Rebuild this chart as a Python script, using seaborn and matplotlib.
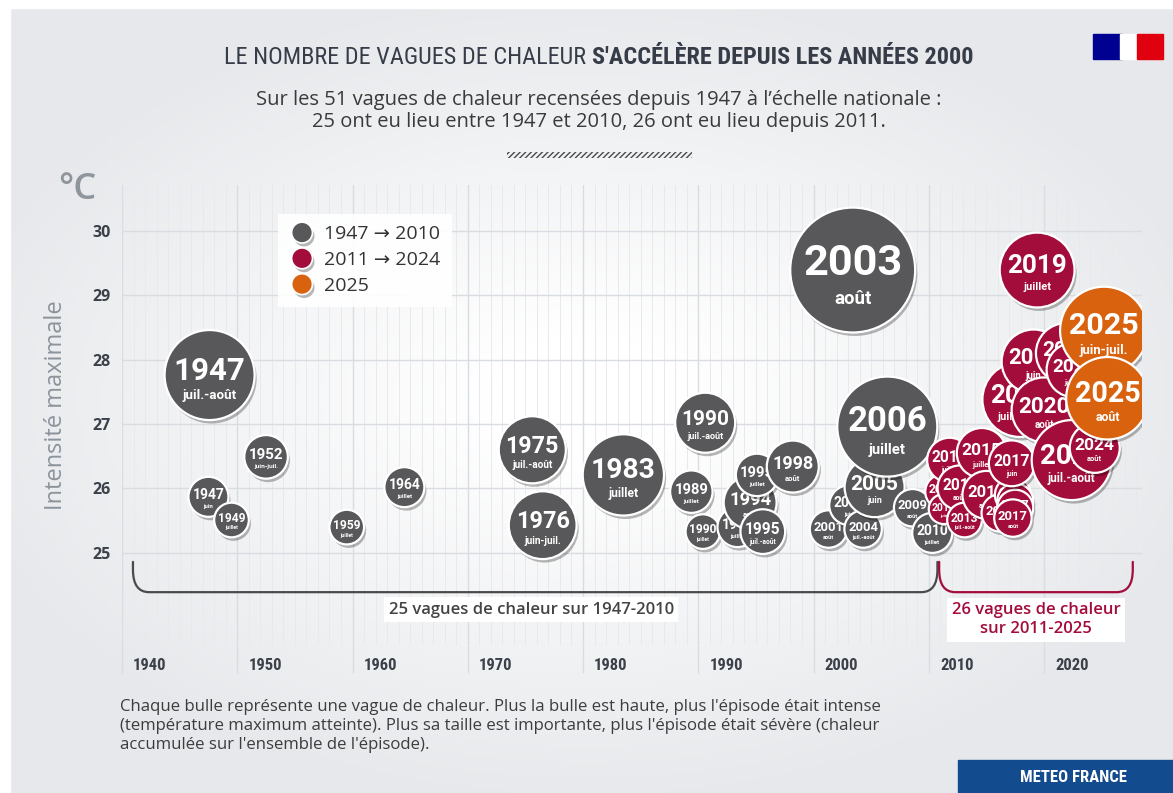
import numpy as np
import pandas as pd
import seaborn as sns
import matplotlib.pyplot as plt
import matplotlib.patheffects as pe
from matplotlib import font_manager
from matplotlib.font_manager import FontProperties
from matplotlib.path import Path
from matplotlib.patches import PathPatch, Rectangle
from matplotlib.lines import Line2D
from matplotlib.colors import LinearSegmentedColormap
from matplotlib.transforms import ScaledTranslation, blended_transform_factory

# --- heat waves (draw order = row order, later on top) ---
annees = ["1947", "1947", "1949", "1952", "1959", "1964", "1975", "1976", "1983",
          "1989", "1990", "1990", "1994", "1994", "1995", "1995", "1998", "2001",
          "2003", "2003", "2004", "2005", "2006", "2009", "2010",
          "2011", "2011", "2012", "2012", "2013", "2015", "2015", "2016", "2016",
          "2017", "2017", "2017", "2017", "2018", "2019", "2019", "2020", "2022",
          "2022", "2022", "2024", "2025", "2025"]
mois = ["juin", "juil.-août", "juillet", "juin-juil.", "juillet", "juillet", "juil.-août",
        "juin-juil.", "juillet", "juillet", "juillet", "juil.-août", "juillet", "août",
        "juillet", "juil.-août", "août", "août", "juin", "août", "juil.-août", "juin",
        "juillet", "août", "juillet",
        "juin", "juillet", "juin", "août", "juil.-août", "juillet", "août", "juillet",
        "août", "juillet", "juillet", "juin", "août", "juil.-août", "juin", "juillet",
        "août", "juin", "juillet", "juil.-août", "août", "juin-juil.", "août"]
# position on the time axis (decimal year)
position = [1947.5, 1947.6, 1949.5, 1952.5, 1959.5, 1964.5, 1975.6, 1976.5, 1983.5,
            1989.4, 1990.4, 1990.6, 1993.4, 1994.5, 1995.1, 1995.6, 1998.2, 2001.3,
            2003.1, 2003.4, 2004.3, 2005.3, 2006.4, 2008.6, 2010.3,
            2011.2, 2011.8, 2011.3, 2012.7, 2013.1, 2014.6, 2015.0, 2016.2, 2017.3,
            2017.5, 2017.5, 2017.2, 2017.3, 2017.9, 2019.1, 2019.4, 2020.0, 2021.9,
            2022.6, 2022.4, 2024.4, 2025.2, 2025.5]
# maximum intensity (°C)
intensite = [25.87, 27.76, 25.51, 26.49, 25.40, 26.02, 26.60, 25.43, 26.21,
             25.95, 25.33, 27.02, 25.40, 25.78, 26.21, 25.33, 26.34, 25.37,
             25.74, 29.39, 25.37, 26.02, 26.96, 25.70, 25.31,
             25.95, 26.44, 25.68, 26.01, 25.51, 26.55, 25.90, 25.62, 25.90,
             25.80, 25.70, 26.39, 25.54, 27.38, 27.97, 29.39, 27.22, 28.10,
             27.84, 26.44, 26.63, 28.45, 27.40]
# severity (accumulated heat, bubble area)
severite = [16, 81, 12, 19, 12, 16, 45, 46, 66,
            18, 12, 36, 16, 28, 18, 20, 27, 14,
            16, 156, 14, 36, 100, 14, 16,
            12, 20, 9, 20, 12, 25, 23, 14, 13,
            13, 13, 21, 14, 56, 41, 56, 42, 36,
            30, 64, 25, 77, 68]

periodes = ["1947 → 2010", "2011 → 2024", "2025"]
couleurs = {"1947 → 2010": "#58585a", "2011 → 2024": "#a30d3b", "2025": "#d9620f"}


def periode_de(a):
    a = int(a)
    if a <= 2010:
        return periodes[0]
    if a <= 2024:
        return periodes[1]
    return periodes[2]


df = pd.DataFrame({"annee": annees, "mois": mois, "position": position,
                   "intensite": intensite, "severite": severite})
df["periode"] = df["annee"].map(periode_de)


def pick(names):
    for n in names:
        try:
            font_manager.findfont(FontProperties(family=n), fallback_to_default=False)
            return n
        except ValueError:
            pass
    return "DejaVu Sans"


NARROW = pick(["Liberation Sans Narrow", "Roboto Condensed", "Open Sans Condensed"])
BODY = pick(["Open Sans", "Noto Sans"])
BUBBLE = pick(["Roboto", "Open Sans"])

sns.set_style("white")
plt.rcParams["font.family"] = [BODY, "DejaVu Sans"]

W, H = 1173, 793
fig = plt.figure(figsize=(W / 100, H / 100), dpi=100)


def fx(px):
    return px / W


def fy(py):
    return 1 - py / H


# soft background
bg = fig.add_axes([0, 0, 1, 1], zorder=-5)
bg.axis("off")
yy, xx = np.mgrid[0:1:200j, 0:1:300j]
r = np.sqrt(((xx - 0.5) / 0.8) ** 2 + ((yy - 0.5) / 0.75) ** 2)
bg.imshow(r, cmap=LinearSegmentedColormap.from_list("bg", ["#ffffff", "#e6e8eb"]),
          extent=(0, 1, 0, 1), aspect="auto", vmin=0.1, vmax=0.7, origin="lower")
bg.set_xlim(0, 1)
bg.set_ylim(0, 1)
fig.add_artist(Rectangle((0, 0), fx(10), 1, transform=fig.transFigure, color="white", zorder=-4))
fig.add_artist(Rectangle((0, fy(8)), 1, fy(0) - fy(8), transform=fig.transFigure, color="white", zorder=-4))

ax = fig.add_axes([fx(122), fy(645), fx(1142) - fx(122), fy(185) - fy(645)])
ax.set_facecolor("none")
ax.set_xlim(1940, 2028.5)
ax.set_ylim(23.57, 30.71)

grid_major = "#d9dce1"
grid_minor = "#e7e9ec"
ax.set_xticks(range(1940, 2021, 10))
ax.set_xticks(range(1940, 2029), minor=True)
ax.set_yticks(range(25, 31))
ax.grid(which="major", axis="both", color=grid_major, lw=1.0)
ax.grid(which="minor", axis="x", color=grid_minor, lw=0.7)
ax.set_axisbelow(True)
for s in ax.spines.values():
    s.set_visible(False)
ax.tick_params(axis="both", which="both", length=0)
ax.tick_params(axis="x", pad=9)
ax.tick_params(axis="y", pad=8)
blend = blended_transform_factory(ax.transData, ax.transAxes)
ax.vlines(range(1940, 2021, 10), -0.06, 0, transform=blend, clip_on=False,
          color=grid_major, lw=1.0)

for lab in ax.get_xticklabels():
    lab.set_horizontalalignment("left")
    lab.set_fontfamily(NARROW)
    lab.set_fontweight("bold")
    lab.set_fontsize(12)
    lab.set_color("#3b4049")
    lab.set_transform(lab.get_transform() + ScaledTranslation(8 / 72, 0, fig.dpi_scale_trans))
for lab in ax.get_yticklabels():
    lab.set_fontweight("bold")
    lab.set_fontsize(11.5)
    lab.set_color("#3b4049")

# bubbles
vmax = 160
smax = 51.84 * vmax
shadow = [pe.SimplePatchShadow(offset=(1.5, -2.5), shadow_rgbFace="#000000", alpha=0.28), pe.Normal()]
for i, row in enumerate(df.itertuples()):
    z = 3 + i * 0.02
    sns.scatterplot(data=df.iloc[[i]], x="position", y="intensite", hue="periode",
                    palette=couleurs, size="severite", sizes=(0, smax), size_norm=(0, vmax),
                    edgecolor="white", linewidth=1.6, legend=False, ax=ax, zorder=z)
    ax.collections[-1].set_path_effects(shadow)
    d_pt = 7.2 * np.sqrt(row.severite)
    fs = 2.5 * np.sqrt(row.severite)
    ax.annotate(row.annee, (row.position, row.intensite), xytext=(0, 0.05 * d_pt),
                textcoords="offset points", ha="center", va="center", fontsize=fs,
                fontweight="bold", color="white", family=BUBBLE, zorder=z + 0.01)
    ax.annotate(row.mois, (row.position, row.intensite), xytext=(0, -0.23 * d_pt),
                textcoords="offset points", ha="center", va="center", fontsize=fs * 0.43,
                fontweight="bold", color="white", family=BUBBLE, zorder=z + 0.01)

ax.set_xlabel("")
ax.set_ylabel("Intensité maximale", fontsize=17, color="#8c939b")
ax.yaxis.set_label_coords(-54 / 1020, 0.522)


# brackets under the bubbles
def bracket(x0, x1, ytop, ybot, color):
    dx, dy = 1.4, 0.35
    verts = [(x0, ytop), (x0, ybot + dy), (x0, ybot), (x0 + dx, ybot), (x1 - dx, ybot),
             (x1, ybot), (x1, ybot + dy), (x1, ytop)]
    codes = [Path.MOVETO, Path.LINETO, Path.CURVE3, Path.CURVE3, Path.LINETO,
             Path.CURVE3, Path.CURVE3, Path.LINETO]
    ax.add_patch(PathPatch(Path(verts, codes), fill=False, edgecolor=color, lw=1.6,
                           capstyle="round", zorder=2))


bracket(1940.95, 2010.75, 24.86, 24.39, "#4a4a4a")
bracket(2010.9, 2027.7, 24.86, 24.39, "#a30d3b")
ax.text(1975.5, 24.12, "25 vagues de chaleur sur 1947-2010", ha="center", va="center",
        fontsize=12, fontweight="semibold", color="#444444", zorder=2,
        bbox=dict(facecolor="white", edgecolor="none", pad=3))
ax.text(2019.3, 23.96, "26 vagues de chaleur\nsur 2011-2025", ha="center", va="center",
        fontsize=12, fontweight="semibold", color="#a30d3b", linespacing=1.25, zorder=2,
        bbox=dict(facecolor="white", edgecolor="none", pad=3))

# legend
handles = [Line2D([], [], marker="o", ls="", markersize=15, markerfacecolor=couleurs[p],
                  markeredgecolor="white", markeredgewidth=1.2, path_effects=shadow)
           for p in periodes]
leg = fig.legend(handles, periodes, loc="upper left", bbox_to_anchor=(fx(268), fy(204)),
                 prop=FontProperties(family=[BODY, "DejaVu Sans"], size=14),
                 labelspacing=0.4, handletextpad=0.5, borderpad=0.6, handlelength=1.3,
                 frameon=True, fancybox=False, labelcolor="#333333")
leg.get_frame().set_facecolor("white")
leg.get_frame().set_edgecolor("none")
leg.get_frame().set_alpha(0.92)

# unit
fig.text(fx(77), fy(190), "°C", ha="center", va="center", fontsize=26,
         color="#8f959c", fontweight="semibold")

# title
t1 = fig.text(fx(583), fy(58), "LE NOMBRE DE VAGUES DE CHALEUR ", ha="right", va="center",
              fontsize=17.5, color="#363c48", family=NARROW, stretch="condensed")
t2 = fig.text(fx(583), fy(58), "S'ACCÉLÈRE DEPUIS LES ANNÉES 2000", ha="left", va="center",
              fontsize=17.5, color="#363c48", family=NARROW, fontweight="bold", stretch="condensed")
fig.canvas.draw()
w1 = t1.get_window_extent().width
w2 = t2.get_window_extent().width
split = 599 - (w1 + w2) / 2 + w1
t1.set_x(fx(split))
t2.set_x(fx(split))

fig.text(fx(599), fy(100), "Sur les 51 vagues de chaleur recensées depuis 1947 à l’échelle nationale :",
         ha="center", va="center", fontsize=14.5, color="#3a3a3a")
fig.text(fx(599), fy(122), "25 ont eu lieu entre 1947 et 2010, 26 ont eu lieu depuis 2011.",
         ha="center", va="center", fontsize=14.5, color="#3a3a3a")
plt.rcParams["hatch.linewidth"] = 1.0
fig.add_artist(Rectangle((fx(507), fy(158)), fx(692) - fx(507), fy(152) - fy(158),
                         transform=fig.transFigure, fill=False, hatch="//////",
                         edgecolor="#4a4a4a", lw=0))

# caption
fig.text(fx(120), fy(726),
         "Chaque bulle représente une vague de chaleur. Plus la bulle est haute, plus l'épisode était intense\n"
         "(température maximum atteinte). Plus sa taille est importante, plus l'épisode était sévère (chaleur\n"
         "accumulée sur l'ensemble de l'épisode).",
         ha="left", va="center", fontsize=12.1, color="#3d3d3d", linespacing=1.22)

# logo and footer
fig.add_artist(Rectangle((fx(1093), fy(59)), fx(1122) - fx(1093), fy(34) - fy(59),
                         transform=fig.transFigure, color="#000091"))
fig.add_artist(Rectangle((fx(1120), fy(59)), fx(1138) - fx(1120), fy(34) - fy(59),
                         transform=fig.transFigure, color="white"))
fig.add_artist(Rectangle((fx(1137), fy(59)), fx(1163) - fx(1137), fy(34) - fy(59),
                         transform=fig.transFigure, color="#e1000f"))
fig.add_artist(Rectangle((fx(958), 0), 1 - fx(958), fy(760), transform=fig.transFigure,
                         color="#134c8e"))
fig.text(fx(1073), fy(778), "METEO FRANCE", ha="center", va="center", fontsize=12,
         color="white", fontweight="bold", family=NARROW)

fig.savefig("out.png", dpi=100)
